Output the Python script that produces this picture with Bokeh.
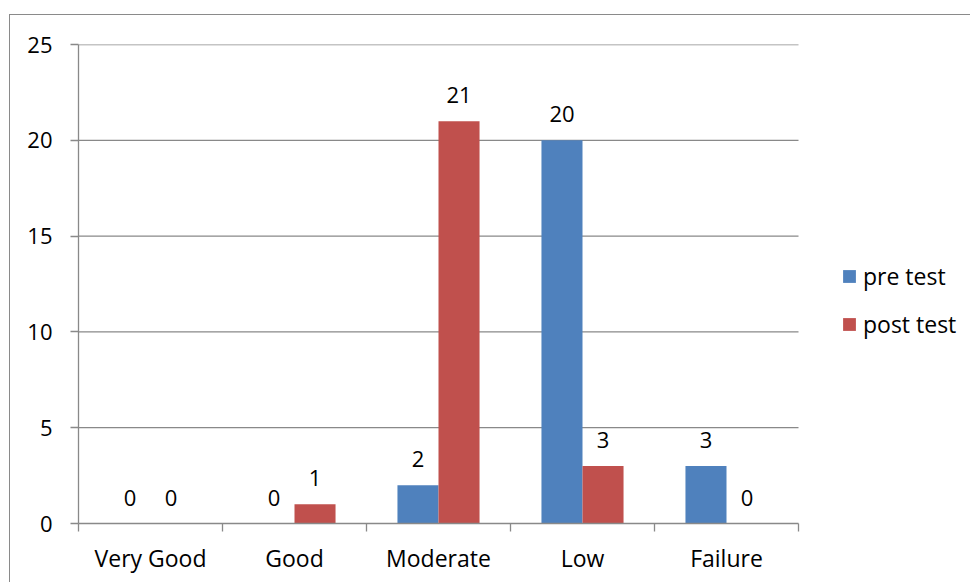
from bokeh.plotting import figure
from bokeh.models import ColumnDataSource, Range1d, FixedTicker, Legend, LegendItem
from bokeh.core.properties import value
from bokeh.transform import dodge
from bokeh.embed import file_html
from bokeh.resources import INLINE

categories = ["Very Good", "Good", "Moderate", "Low", "Failure"]
pre_test = [0, 0, 2, 20, 3]
post_test = [0, 1, 21, 3, 0]
y_ticks = [0, 5, 10, 15, 20, 25]

FONT = "Open Sans"
GRAY = "#898989"
BLUE = "#4F81BD"
RED = "#C0504D"
BAR_W = 0.285

n = len(categories)
idx = [i + 0.5 for i in range(n)]
src = ColumnDataSource(dict(
    x=idx,
    pre=pre_test,
    post=post_test,
    pre_lbl=[str(v) for v in pre_test],
    post_lbl=[str(v) for v in post_test],
))

# plot area: categories occupy 720 px, the remaining width on the right holds the legend
FRAME_W = 888
CAT_W = 720
p = figure(width=961, height=568, output_backend="svg", toolbar_location=None,
           x_range=Range1d(0, n * FRAME_W / CAT_W), y_range=Range1d(0, 25),
           min_border_left=68, min_border_right=5, min_border_top=29,
           min_border_bottom=60)
# chart area border (top and left edges)
p.styles = {"margin-left": "9px", "margin-top": "14px",
            "border-left": "1px solid #8a8a8a", "border-top": "1px solid #8a8a8a"}
p.outline_line_color = None
p.background_fill_color = "white"
p.border_fill_color = "white"

# horizontal gridlines over the category span only
p.xgrid.grid_line_color = None
p.ygrid.grid_line_color = None
p.segment(x0=0, x1=n, y0=y_ticks[1:], y1=y_ticks[1:], line_color=GRAY, line_width=1.3)

# bars
r_pre = p.vbar(x=dodge("x", -BAR_W / 2), top="pre", width=BAR_W, source=src,
               fill_color=BLUE, line_color=None)
r_post = p.vbar(x=dodge("x", BAR_W / 2), top="post", width=BAR_W, source=src,
                fill_color=RED, line_color=None)

# value labels
for field, lbl, off in (("pre", "pre_lbl", -BAR_W / 2), ("post", "post_lbl", BAR_W / 2)):
    p.text(x=dodge("x", off), y=field, text=lbl, source=src,
           text_align="center", text_baseline="middle", y_offset=-26,
           text_font=value(FONT), text_font_size="22px", text_color="black")

# y axis
p.yaxis.ticker = FixedTicker(ticks=y_ticks)
p.yaxis.axis_line_color = GRAY
p.yaxis.axis_line_width = 1.3
p.yaxis.major_tick_line_color = GRAY
p.yaxis.major_tick_line_width = 1.3
p.yaxis.major_tick_out = 8
p.yaxis.major_tick_in = 0
p.yaxis.minor_tick_line_color = None
p.yaxis.major_label_standoff = 18
p.yaxis.major_label_text_font = FONT
p.yaxis.major_label_text_font_size = "22px"
p.yaxis.major_label_text_color = "black"

# x axis: labels at category centres, tick marks at category boundaries
p.xaxis.bounds = (0, n)
p.xaxis.ticker = FixedTicker(ticks=idx, minor_ticks=list(range(n + 1)))
p.xaxis.major_label_overrides = {v: c for v, c in zip(idx, categories)}
p.xaxis.axis_line_color = GRAY
p.xaxis.axis_line_width = 1.3
p.xaxis.major_tick_line_color = None
p.xaxis.minor_tick_line_color = GRAY
p.xaxis.minor_tick_line_width = 1.3
p.xaxis.minor_tick_out = 8
p.xaxis.minor_tick_in = 0
p.xaxis.major_label_standoff = 10
p.xaxis.major_label_text_font = FONT
p.xaxis.major_label_text_font_size = "23px"
p.xaxis.major_label_text_color = "black"

legend = Legend(items=[LegendItem(label="pre test", renderers=[r_pre]),
                       LegendItem(label="post test", renderers=[r_post])],
                location=(763, 183), padding=0, margin=0, spacing=16,
                glyph_width=16, glyph_height=16, label_height=22,
                label_standoff=6, border_line_color=None,
                background_fill_alpha=0,
                label_text_font=FONT, label_text_font_size="23px",
                label_text_color="black")
p.add_layout(legend)

open("out.html", "w").write(file_html(p, INLINE))
